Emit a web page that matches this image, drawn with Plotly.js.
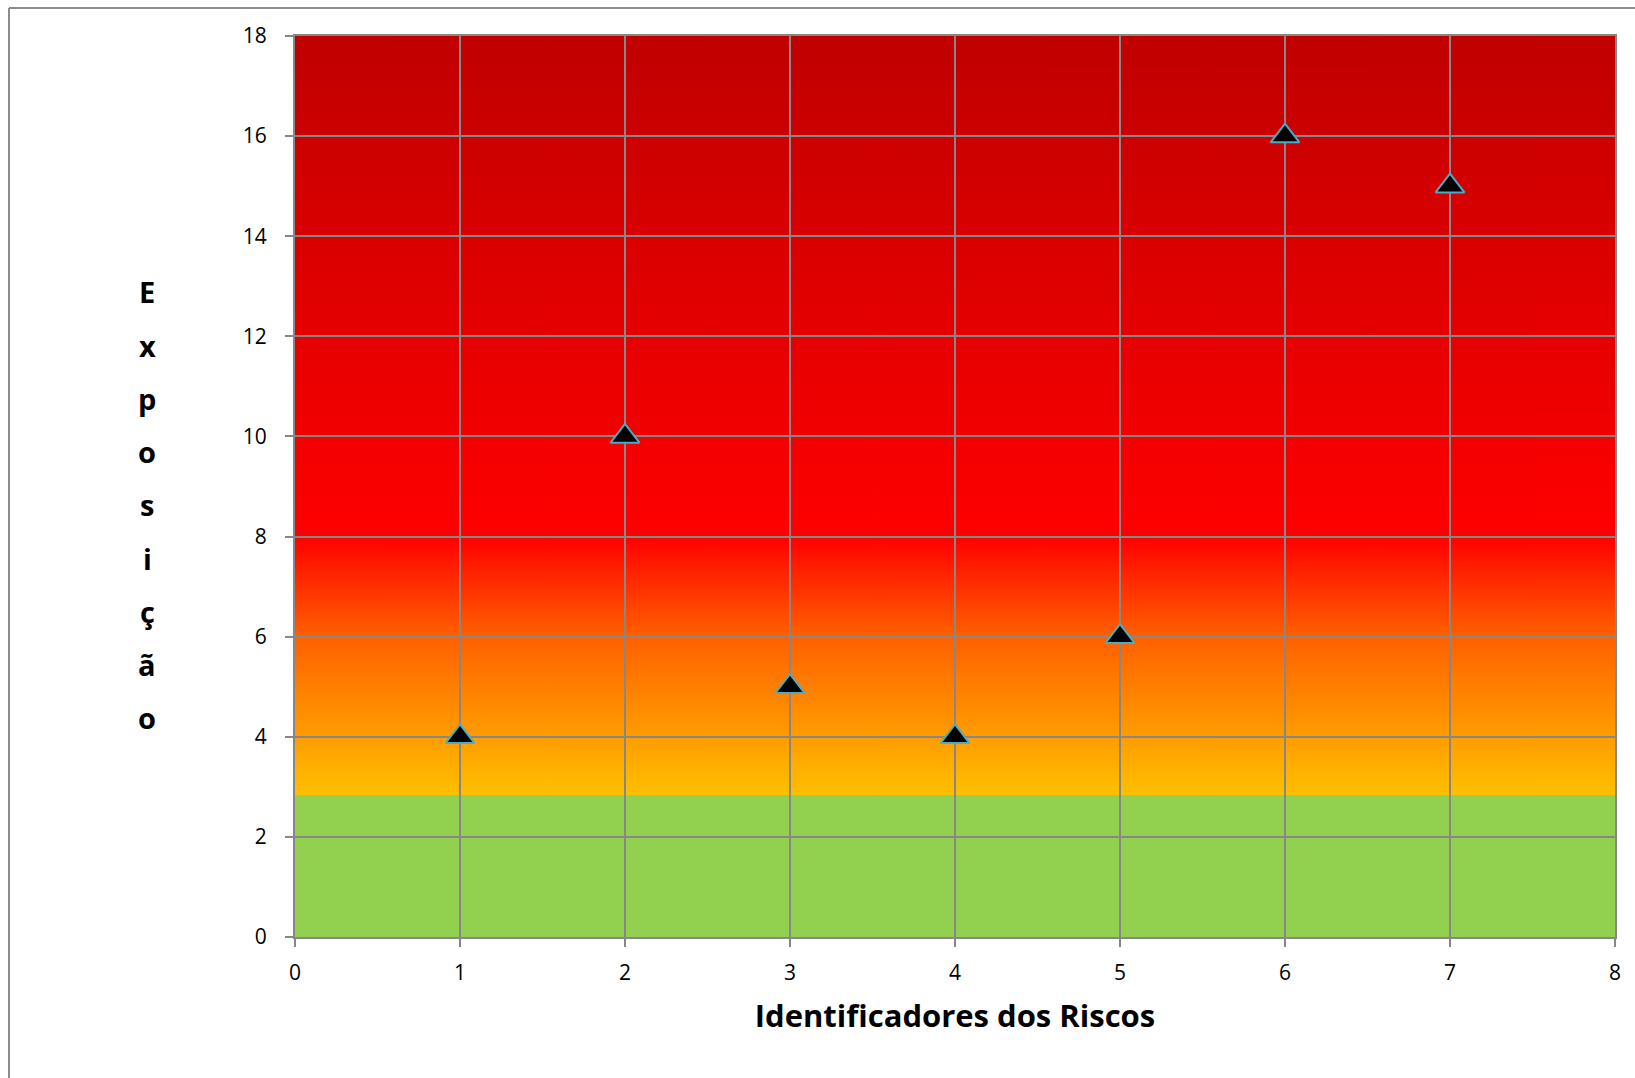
<!DOCTYPE html>
<html>
<head>
<meta charset="utf-8">
<script src="https://cdn.plot.ly/plotly-3.0.1.min.js"></script>
<style>
  html, body { margin: 0; padding: 0; background: #ffffff; }
  #chart { width: 1635px; height: 1078px; }
</style>
</head>
<body>
<div id="chart"></div>
<script>
// ---- data ----
const riskIds = [1, 2, 3, 4, 5, 6, 7];
const exposure = [4, 10, 5, 4, 6, 16, 15];
const xTickVals = [0, 1, 2, 3, 4, 5, 6, 7, 8];
const yTickVals = [0, 2, 4, 6, 8, 10, 12, 14, 16, 18];
const xTitle = 'Identificadores dos Riscos';
const yTitle = 'Exposição';
// background gradient stops (y value, colour)
const bandY = [18, 8, 6, 2.83, 2.83, 0];
const bandColors = ['#C00000', '#FF0000', '#FF6000', '#FFC000', '#92D050', '#92D050'];

// ---- layout geometry ----
const W = 1635, H = 1078;
const L = 295, R = 20, T = 36, B = 141;
const PW = W - L - R, PH = H - T - B;
const yMax = 18;
const gridColor = '#878787';

// build gradient image
const cv = document.createElement('canvas');
cv.width = 8; cv.height = PH;
const ctx = cv.getContext('2d');
const grad = ctx.createLinearGradient(0, 0, 0, PH);
for (let i = 0; i < bandY.length; i++) {
  grad.addColorStop((yMax - bandY[i]) / yMax, bandColors[i]);
}
ctx.fillStyle = grad;
ctx.fillRect(0, 0, cv.width, PH);
const bgURL = cv.toDataURL('image/png');

// y-title letters, stacked vertically
const letters = Array.from(yTitle);
const letterX = (147 - L) / PW;
const letterStart = 292, letterStep = 53.2;
const annotations = letters.map((ch, i) => ({
  text: ch,
  xref: 'paper', yref: 'paper',
  x: letterX,
  y: 1 - (letterStart + i * letterStep - T) / PH,
  xanchor: 'center', yanchor: 'middle',
  showarrow: false,
  font: { family: 'Open Sans, sans-serif', size: 29, color: '#000000', weight: 'bold' }
}));

const trace = {
  type: 'scatter',
  mode: 'markers',
  x: riskIds,
  y: exposure,
  marker: {
    symbol: 'triangle-up',
    size: 25,
    color: '#000000',
    line: { color: '#4BACC6', width: 2 }
  },
  hoverinfo: 'x+y'
};

const axisCommon = {
  showgrid: true,
  gridcolor: gridColor,
  gridwidth: 2,
  zeroline: false,
  showline: true,
  linecolor: gridColor,
  linewidth: 2,
  mirror: true,
  ticks: 'outside',
  ticklen: 8,
  tickwidth: 2,
  tickcolor: gridColor,
  tickfont: { family: 'Open Sans, sans-serif', size: 21, color: '#000000' },
  fixedrange: true
};

const layout = {
  width: W, height: H,
  margin: { l: L, r: R, t: T, b: B },
  paper_bgcolor: '#ffffff',
  plot_bgcolor: 'rgba(0,0,0,0)',
  showlegend: false,
  xaxis: Object.assign({}, axisCommon, {
    range: [0, 8],
    tickvals: xTickVals,
    ticktext: xTickVals.map(String),
    ticklabelstandoff: 8,
    title: {
      text: xTitle,
      standoff: 20,
      font: { family: 'Open Sans, sans-serif', size: 31, color: '#000000', weight: 'bold' }
    }
  }),
  yaxis: Object.assign({}, axisCommon, {
    range: [0, 18],
    tickvals: yTickVals,
    ticktext: yTickVals.map(String),
    ticklabelstandoff: 14
  }),
  images: [{
    source: bgURL,
    xref: 'x domain', yref: 'y domain',
    x: 0, y: 1, sizex: 1, sizey: 1,
    xanchor: 'left', yanchor: 'top',
    sizing: 'stretch',
    layer: 'below'
  }],
  shapes: [
    { type: 'line', xref: 'paper', yref: 'paper',
      x0: (9 - L) / PW, x1: (W + 10 - L) / PW,
      y0: 1 + (T - 8) / PH, y1: 1 + (T - 8) / PH,
      line: { color: '#8c8c8c', width: 2 } },
    { type: 'line', xref: 'paper', yref: 'paper',
      x0: (9 - L) / PW, x1: (9 - L) / PW,
      y0: 1 + (T - 8) / PH, y1: -(B + 10) / PH,
      line: { color: '#8c8c8c', width: 2 } }
  ],
  annotations: annotations
};

Plotly.newPlot('chart', [trace], layout, { displayModeBar: false, staticPlot: true });
</script>
</body>
</html>
